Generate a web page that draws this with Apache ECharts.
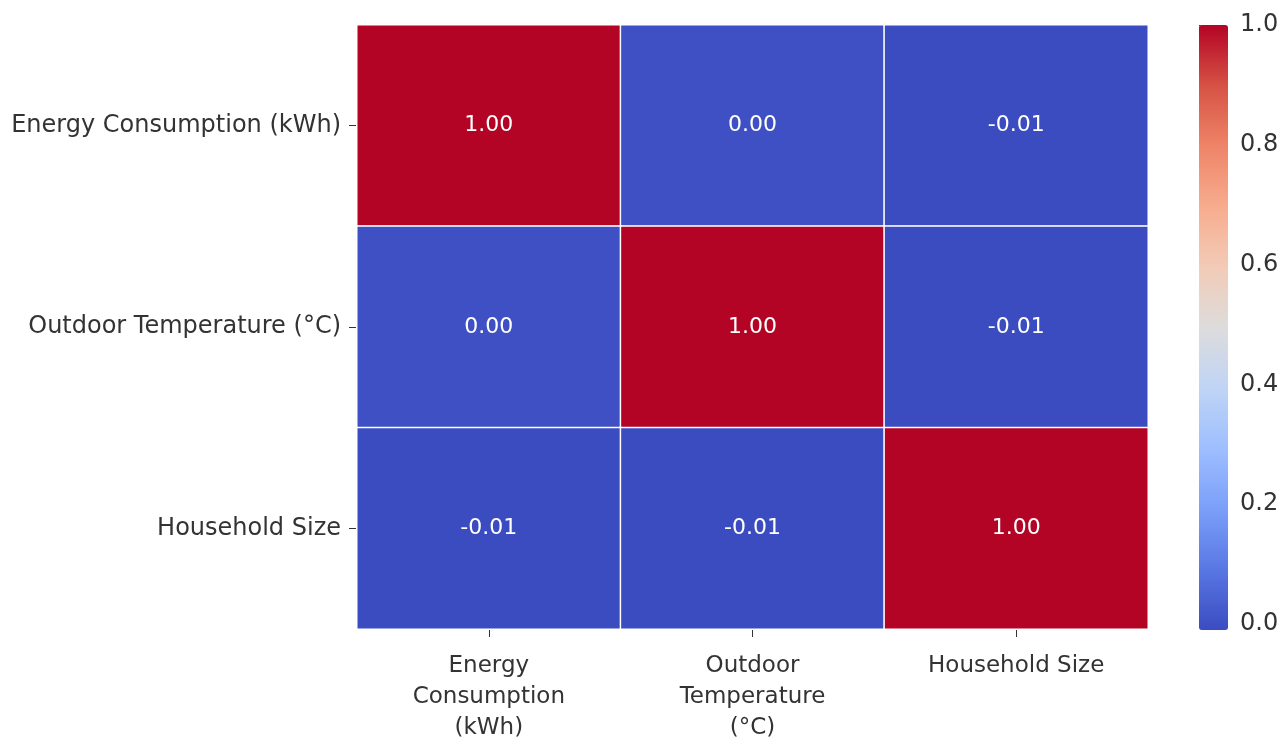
<!DOCTYPE html>
<html>
<head>
<meta charset="utf-8">
<script src="https://cdn.jsdelivr.net/npm/echarts@6/dist/echarts.min.js"></script>
<style>
  html, body { margin:0; padding:0; background:#fff; }
  #chart { width:1286px; height:744px; }
</style>
</head>
<body>
<div id="chart"></div>
<script type="text/javascript">
// variables (rows top -> bottom, columns left -> right)
var variables = ['Energy Consumption (kWh)', 'Outdoor Temperature (°C)', 'Household Size'];
var xTickLabels = ['Energy\nConsumption\n(kWh)', 'Outdoor\nTemperature\n(°C)', 'Household Size'];
// correlation matrix, row by row
var rowEnergy = [1.00, 0.00, -0.01];
var rowTemp = [0.00, 1.00, -0.01];
var rowHousehold = [-0.01, -0.01, 1.00];
var colorbarTicks = [0.0, 0.2, 0.4, 0.6, 0.8, 1.0];
var coolwarm = ['#3b4cc0', '#5977e3', '#7b9ff9', '#9ebeff', '#c0d4f5', '#dddcdc',
                '#f2cbb7', '#f7ac8e', '#ee8468', '#d65244', '#b40426'];

var rows = [rowEnergy, rowTemp, rowHousehold];
var data = [];
var vmin = Infinity, vmax = -Infinity;
for (var r = 0; r < rows.length; r++) {
  for (var c = 0; c < rows[r].length; c++) {
    data.push([c, r, rows[r][c]]);
    vmin = Math.min(vmin, rows[r][c]);
    vmax = Math.max(vmax, rows[r][c]);
  }
}

var font = 'DejaVu Sans';
var txt = '#333333';

var dom = document.getElementById('chart');
var myChart = echarts.init(dom);
var option = {
  animation: false,
  backgroundColor: '#ffffff',
  grid: [
    { left: 357, top: 25, width: 791, height: 605 },
    { left: 1199, top: 25, width: 29, height: 605 }
  ],
  xAxis: [{
    type: 'category',
    gridIndex: 0,
    data: variables,
    position: 'bottom',
    axisLine: { show: false },
    splitLine: { show: false },
    axisTick: { show: true, alignWithLabel: true, length: 8, lineStyle: { color: txt, width: 1 } },
    axisLabel: {
      interval: 0, margin: 22, color: txt, fontFamily: font, fontSize: 23, lineHeight: 31,
      formatter: function (v, i) { return xTickLabels[i]; }
    }
  }, {
    type: 'value', gridIndex: 1, min: 0, max: 1, show: false
  }],
  yAxis: [{
    type: 'category',
    gridIndex: 0,
    data: variables,
    inverse: true,
    axisLine: { show: false },
    splitLine: { show: false },
    axisTick: { show: true, alignWithLabel: true, length: 8, lineStyle: { color: txt, width: 1 } },
    axisLabel: { interval: 0, margin: 16, color: txt, fontFamily: font, fontSize: 24 }
  }, {
    type: 'value',
    gridIndex: 1,
    position: 'right',
    min: vmin,
    max: vmax,
    axisLine: { show: false },
    splitLine: { show: false },
    axisTick: { show: true, length: 7, customValues: colorbarTicks, lineStyle: { color: txt, width: 1 } },
    axisLabel: {
      margin: 12, color: txt, fontFamily: font, fontSize: 24, customValues: colorbarTicks,
      formatter: function (v) { return v.toFixed(1); }
    }
  }],
  visualMap: {
    type: 'continuous',
    min: vmin,
    max: vmax,
    seriesIndex: 0,
    calculable: false,
    hoverLink: false,
    orient: 'vertical',
    left: 1199,
    top: 25,
    padding: 0,
    itemWidth: 29,
    itemHeight: 605,
    text: ['', ''],
    textGap: 0,
    inRange: { color: coolwarm }
  },
  series: [{
    type: 'heatmap',
    xAxisIndex: 0,
    yAxisIndex: 0,
    data: data,
    itemStyle: { borderColor: '#ffffff', borderWidth: 1.5 },
    label: {
      show: true,
      color: '#ffffff',
      fontFamily: font,
      fontSize: 22,
      formatter: function (p) { return p.value[2].toFixed(2); }
    },
    emphasis: { disabled: true }
  }]
};
myChart.setOption(option);
</script>
</body>
</html>
